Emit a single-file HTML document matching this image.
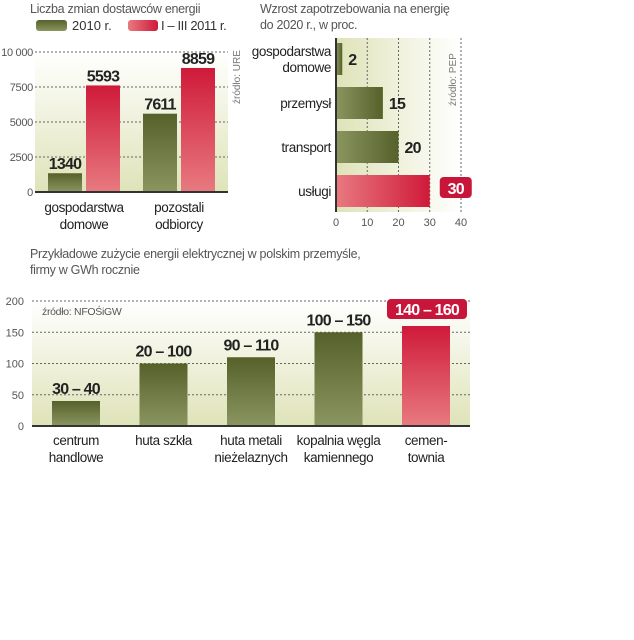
<!DOCTYPE html>
<html><head><meta charset="utf-8"><style>
html,body{margin:0;padding:0;background:#fff;width:634px;height:640px;overflow:hidden}
svg{display:block;font-family:"Liberation Sans Narrow","Liberation Sans",sans-serif}
</style></head><body>
<svg id="s" width="634" height="640">
<defs>
<linearGradient id="bg" x1="0" y1="0" x2="0" y2="1"><stop offset="0" stop-color="#fff"/><stop offset="1" stop-color="#dfe3b8"/></linearGradient>
<linearGradient id="bgh" x1="0" y1="0" x2="1" y2="0"><stop offset="0" stop-color="#dfe3b8"/><stop offset="1" stop-color="#fff"/></linearGradient>
<linearGradient id="gv" x1="0" y1="0" x2="0" y2="1"><stop offset="0" stop-color="#56612a"/><stop offset="1" stop-color="#8a9560"/></linearGradient>
<linearGradient id="rv" x1="0" y1="0" x2="0" y2="1"><stop offset="0" stop-color="#cf1a3a"/><stop offset="1" stop-color="#e87a80"/></linearGradient>
<linearGradient id="gh" x1="0" y1="0" x2="1" y2="0"><stop offset="0" stop-color="#8a9560"/><stop offset="1" stop-color="#56612a"/></linearGradient>
<linearGradient id="rh" x1="0" y1="0" x2="1" y2="0"><stop offset="0" stop-color="#e87a80"/><stop offset="1" stop-color="#cf1a3a"/></linearGradient>
</defs>
</svg>
<script>
// Chart 1
const c1Categories=["gospodarstwa|domowe","pozostali|odbiorcy"];
const c1Series2010=[1340,5593];
const c1Series2011=[7611,8859];
const c1Labels2010=["1340","7611"];
const c1Labels2011=["5593","8859"];
const c1Ticks=[0,2500,5000,7500,10000];
const c1TickLabels=["0","2500","5000","7500","10 000"];
// Chart 2
const c2Categories=["gospodarstwa|domowe","przemysł","transport","usługi"];
const c2Values=[2,15,20,30];
const c2Ticks=[0,10,20,30,40];
// Chart 3
const c3Categories=["centrum|handlowe","huta szkła","huta metali|nieżelaznych","kopalnia węgla|kamiennego","cemen-|townia"];
const c3Values=[40,100,110,150,160];
const c3Labels=["30 – 40","20 – 100","90 – 110","100 – 150","140 – 160"];
const c3Ticks=[0,50,100,150,200];

const S=document.getElementById('s');const NS="http://www.w3.org/2000/svg";
function el(t,a,txt){const e=document.createElementNS(NS,t);for(const k in a)e.setAttribute(k,a[k]);if(txt!==undefined)e.textContent=txt;S.appendChild(e);return e;}
function lines(x,y,str,a,dy){str.split('|').forEach((s,i)=>{const t=el('text',Object.assign({x:x,y:y+i*dy},a),s);});}
const LBL={'font-size':13.5,fill:'#222','letter-spacing':'-0.4'};
const VAL={'font-size':16,'font-weight':'bold',fill:'#222','letter-spacing':'-0.8'};
let t;
// ===== Chart 1 =====
const y1=v=>192-v/10000*140;
t=el('text',{x:30,y:13,'font-size':12.5,fill:'#555','letter-spacing':'-0.3'},'Liczba zmian dostawców energii');
t=el('rect',{x:36,y:20,width:31,height:11,rx:3,fill:'url(#gv)'});
t=el('text',{x:72,y:30,'font-size':13,fill:'#333'},'2010 r.');
t=el('rect',{x:128,y:20,width:30,height:11,rx:3,fill:'url(#rh)'});
t=el('text',{x:161,y:30,'font-size':13,fill:'#333','letter-spacing':'-0.4'},'I – III 2011 r.');
t=el('rect',{x:35,y:52,width:193,height:140,fill:'url(#bg)'});
c1Ticks.forEach((v,i)=>{if(v>0){t=el('line',{x1:35,x2:228,y1:y1(v),y2:y1(v),stroke:'#666','stroke-dasharray':'2,2','stroke-width':1});}
 t=el('text',{x:33,y:y1(v)+4,'font-size':11,fill:'#555','text-anchor':'end','letter-spacing':'-0.3'},c1TickLabels[i]);});
c1Categories.forEach((c,i)=>{const gx=48+i*95;
 t=el('rect',{x:gx,y:y1(c1Series2010[i]),width:34,height:192-y1(c1Series2010[i]),fill:'url(#gv)'});
 t=el('rect',{x:gx+38,y:y1(c1Series2011[i]),width:34,height:192-y1(c1Series2011[i]),fill:'url(#rv)'});
 t=el('text',Object.assign({x:gx+17,y:y1(c1Series2010[i])-4,'text-anchor':'middle'},VAL),c1Labels2010[i]);
 t=el('text',Object.assign({x:gx+55,y:y1(c1Series2011[i])-4,'text-anchor':'middle'},VAL),c1Labels2011[i]);
 lines(gx+36,212,c,Object.assign({'text-anchor':'middle'},LBL),17);});
t=el('line',{x1:35,x2:228,y1:192,y2:192,stroke:'#333','stroke-width':2});
t=el('text',{x:0,y:0,'font-size':10,fill:'#777',transform:'translate(240,104) rotate(-90)'},'źródło: URE');
// ===== Chart 2 =====
const x2=v=>336+v/40*125;
t=el('text',{x:260,y:13,'font-size':12.5,fill:'#555','letter-spacing':'-0.3'},'Wzrost zapotrzebowania na energię');
t=el('text',{x:260,y:29,'font-size':12.5,fill:'#555','letter-spacing':'-0.3'},'do 2020 r., w proc.');
t=el('rect',{x:336,y:38,width:125,height:174,fill:'url(#bgh)'});
c2Ticks.forEach(v=>{if(v>0){t=el('line',{x1:x2(v),x2:x2(v),y1:38,y2:212,stroke:'#666','stroke-dasharray':'2,2'});}
 t=el('text',{x:x2(v),y:226,'font-size':11,fill:'#555','text-anchor':'middle'},String(v));});
c2Categories.forEach((c,i)=>{const by=43+i*44;const last=i===c2Categories.length-1;
 t=el('rect',{x:336,y:by,width:x2(c2Values[i])-336,height:32,fill:last?'url(#rh)':'url(#gh)'});
 const n=c.split('|').length;lines(331,by+21-(n-1)*8,c,Object.assign({'text-anchor':'end'},LBL),16);
 if(last){t=el('rect',{x:x2(c2Values[i])+10,y:by+2,width:32,height:21,rx:4,fill:'#c8163a'});
  t=el('text',Object.assign({},VAL,{x:x2(c2Values[i])+26,y:by+19,fill:'#fff','text-anchor':'middle'}),String(c2Values[i]));}
 else t=el('text',Object.assign({x:x2(c2Values[i])+6,y:by+22},VAL),String(c2Values[i]));
 });
t=el('line',{x1:336,x2:336,y1:38,y2:212,stroke:'#333','stroke-width':2});
t=el('text',{x:0,y:0,'font-size':10,fill:'#777',transform:'translate(456,106) rotate(-90)'},'źródło: PEP');
// ===== Chart 3 =====
const y3=v=>426-v/200*125;
t=el('text',{x:30,y:258,'font-size':12.5,fill:'#555','letter-spacing':'-0.3'},'Przykładowe zużycie energii elektrycznej w polskim przemyśle,');
t=el('text',{x:30,y:274,'font-size':12.5,fill:'#555','letter-spacing':'-0.3'},'firmy w GWh rocznie');
t=el('rect',{x:32,y:301,width:438,height:125,fill:'url(#bg)'});
c3Ticks.forEach(v=>{if(v>0){t=el('line',{x1:32,x2:470,y1:y3(v),y2:y3(v),stroke:'#666','stroke-dasharray':'2,2'});}
 t=el('text',{x:24,y:y3(v)+4,'font-size':11,fill:'#555','text-anchor':'end'},String(v));});
t=el('text',{x:42,y:315,'font-size':10.5,fill:'#555','letter-spacing':'-0.3'},'źródło: NFOŚiGW');
c3Categories.forEach((c,i)=>{const bx=52+i*87.5;const last=i===c3Categories.length-1;
 t=el('rect',{x:bx,y:y3(c3Values[i]),width:48,height:426-y3(c3Values[i]),fill:last?'url(#rv)':'url(#gv)'});
 if(last){t=el('rect',{x:bx-15,y:y3(c3Values[i])-27,width:80,height:20,rx:4,fill:'#c8163a'});
  t=el('text',Object.assign({},VAL,{x:bx+25,y:y3(c3Values[i])-11,fill:'#fff','text-anchor':'middle'}),c3Labels[i]);}
 else t=el('text',Object.assign({x:bx+24,y:y3(c3Values[i])-7,'text-anchor':'middle'},VAL),c3Labels[i]);
 
 lines(bx+24,445,c,Object.assign({'text-anchor':'middle'},LBL),17);});
t=el('line',{x1:32,x2:470,y1:426,y2:426,stroke:'#333','stroke-width':2});
</script>
</body></html>
